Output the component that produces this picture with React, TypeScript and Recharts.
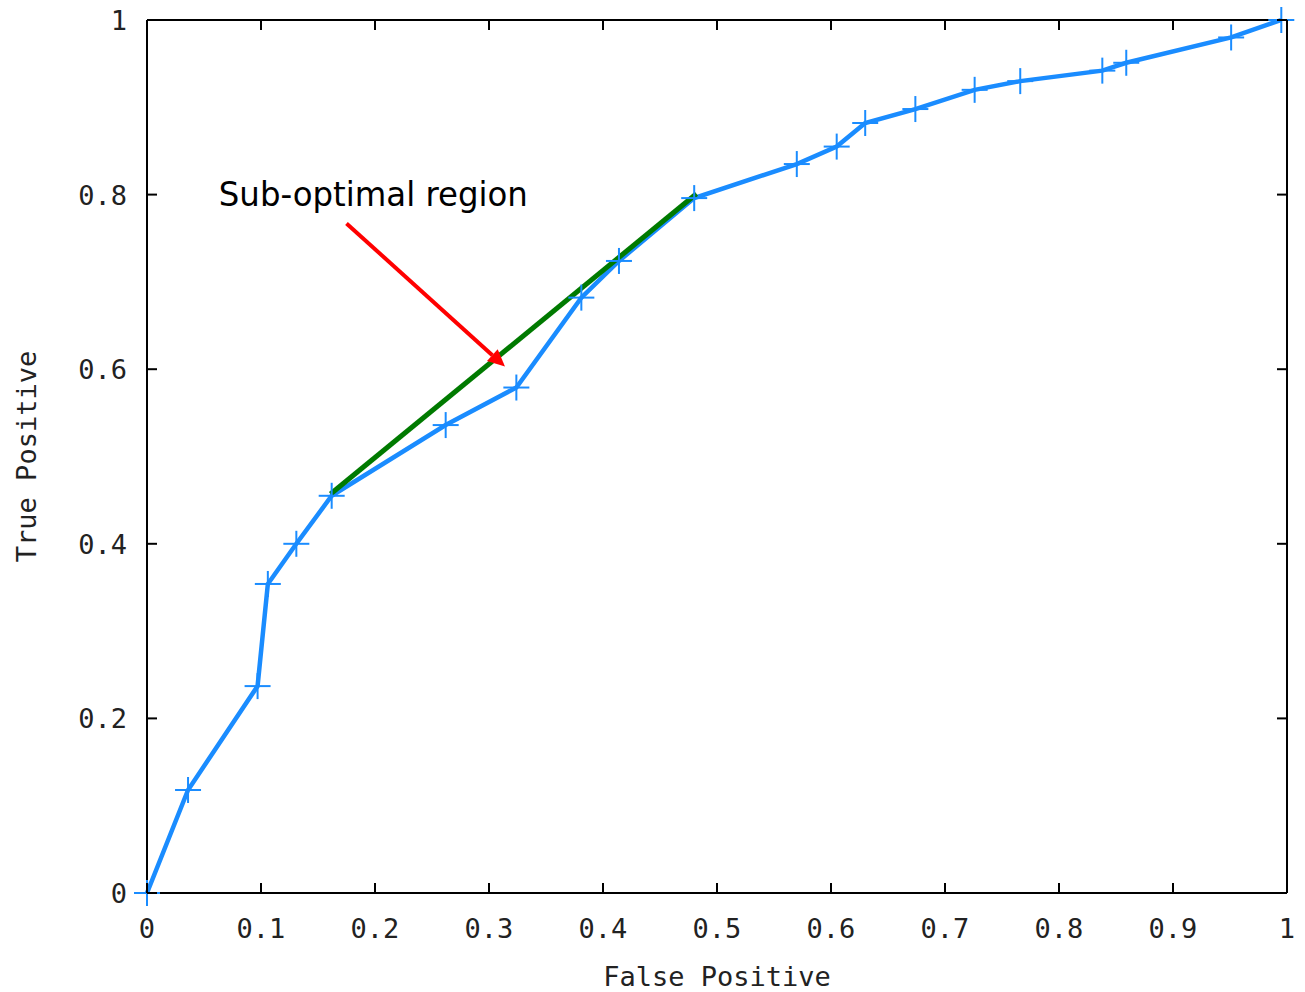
import {
  LineChart,
  Line,
  XAxis,
  YAxis,
  ReferenceLine,
  ReferenceDot,
} from "recharts";

// ROC curve points (false positive rate / true positive rate)
const fpr = [
  0, 0.036, 0.097, 0.106, 0.131, 0.162, 0.262, 0.324, 0.381, 0.414, 0.48,
  0.57, 0.605, 0.63, 0.674, 0.726, 0.766, 0.838, 0.859, 0.951, 0.995,
];
const tpr = [
  0, 0.118, 0.237, 0.354, 0.4, 0.455, 0.536, 0.579, 0.682, 0.724, 0.796,
  0.835, 0.855, 0.882, 0.898, 0.92, 0.93, 0.942, 0.951, 0.98, 1.0,
];

const xTicks = [0, 0.1, 0.2, 0.3, 0.4, 0.5, 0.6, 0.7, 0.8, 0.9, 1];
const yTicks = [0, 0.2, 0.4, 0.6, 0.8, 1];

// convex-hull shortcut and the pointer to the dip under it
const hullFrom = { x: 0.161, y: 0.457 };
const hullTo = { x: 0.482, y: 0.801 };
const arrowFrom = { x: 0.175, y: 0.767 };
const arrowTo = { x: 0.314, y: 0.603 };
const noteAt = { x: 0.063, y: 0.787 };
const noteText = "Sub-optimal region";

const data = fpr.map((x, i) => ({ x, y: tpr[i] }));

const BLUE = "#1a8cff";
const MONO = "'DejaVu Sans Mono', monospace";
const TICK_LEN = 10;

const fmt = (v: number) => (v === 0 || v === 1 ? String(v) : v.toFixed(1));

function BottomTick(props: any) {
  const { x, y, payload } = props;
  return (
    <g>
      <line x1={x} y1={y} x2={x} y2={y - TICK_LEN} stroke="#000" strokeWidth={2} />
      <text x={x} y={y + 45} textAnchor="middle" fontFamily={MONO} fontSize={27} fill="#222">
        {fmt(payload.value)}
      </text>
    </g>
  );
}

function LeftTick(props: any) {
  const { x, y, payload } = props;
  return (
    <g>
      <line x1={x} y1={y} x2={x + TICK_LEN} y2={y} stroke="#000" strokeWidth={2} />
      <text x={x - 20} y={y + 10} textAnchor="end" fontFamily={MONO} fontSize={27} fill="#222">
        {fmt(payload.value)}
      </text>
    </g>
  );
}

// mirrored ticks on the top and right border, no labels
function TopTick(props: any) {
  const { x, y } = props;
  return <line x1={x} y1={y} x2={x} y2={y + TICK_LEN} stroke="#000" strokeWidth={2} />;
}

function RightTick(props: any) {
  const { x, y } = props;
  return <line x1={x} y1={y} x2={x - TICK_LEN} y2={y} stroke="#000" strokeWidth={2} />;
}

function PlusDot(props: any) {
  const { cx, cy } = props;
  const h = 13;
  return (
    <g>
      <line x1={cx - h} y1={cy} x2={cx + h} y2={cy} stroke={BLUE} strokeWidth={2} />
      <line x1={cx} y1={cy - h} x2={cx} y2={cy + h} stroke={BLUE} strokeWidth={2} />
    </g>
  );
}

function Arrow(props: any) {
  const { x1, y1, x2, y2 } = props;
  const dx = x2 - x1;
  const dy = y2 - y1;
  const len = Math.hypot(dx, dy);
  const ux = dx / len;
  const uy = dy / len;
  const head = 17;
  const half = 8;
  const bx = x2 - ux * head;
  const by = y2 - uy * head;
  return (
    <g>
      <line x1={x1} y1={y1} x2={bx} y2={by} stroke="#ff0000" strokeWidth={4} />
      <polygon
        points={`${x2},${y2} ${bx - uy * half},${by + ux * half} ${bx + uy * half},${by - ux * half}`}
        fill="#ff0000"
      />
    </g>
  );
}

function Note(props: any) {
  const { cx, cy } = props;
  return (
    <text
      x={cx}
      y={cy}
      fontFamily="'DejaVu Sans', Tahoma, sans-serif"
      fontSize={33}
      textLength={309}
      lengthAdjust="spacingAndGlyphs"
      fill="#000"
    >
      {noteText}
    </text>
  );
}

const xTitle = (p: any) => {
  const vb = p.viewBox;
  return (
    <text x={vb.x + vb.width / 2} y={vb.y + 93} textAnchor="middle" fontFamily={MONO} fontSize={27} fill="#222">
      False Positive
    </text>
  );
};

const yTitle = (p: any) => {
  const vb = p.viewBox;
  const x = vb.x + 36;
  const y = vb.y + vb.height / 2;
  return (
    <text x={x} y={y} transform={`rotate(-90, ${x}, ${y})`} textAnchor="middle" fontFamily={MONO} fontSize={27} fill="#222">
      True Positive
    </text>
  );
};

const axisLine = { stroke: "#000", strokeWidth: 2 };

export default function App() {
  return (
    <div style={{ position: "absolute", left: 0, top: 0, background: "#fff" }}>
      <LineChart width={1305} height={992} data={data} margin={{ top: 19, right: 17, bottom: 0, left: 0 }}>
        <XAxis
          dataKey="x"
          type="number"
          domain={[0, 1]}
          ticks={xTicks}
          interval={0}
          height={99}
          tickSize={0}
          tickMargin={0}
          tickLine={false}
          axisLine={axisLine}
          tick={<BottomTick />}
          label={{ content: xTitle }}
        />
        <XAxis
          xAxisId="top"
          dataKey="x"
          orientation="top"
          type="number"
          domain={[0, 1]}
          ticks={xTicks}
          interval={0}
          height={1}
          tickSize={0}
          tickMargin={0}
          tickLine={false}
          axisLine={axisLine}
          tick={<TopTick />}
        />
        <YAxis
          type="number"
          domain={[0, 1]}
          ticks={yTicks}
          interval={0}
          width={147}
          tickSize={0}
          tickMargin={0}
          tickLine={false}
          axisLine={axisLine}
          tick={<LeftTick />}
          label={{ content: yTitle }}
        />
        <YAxis
          yAxisId="right"
          orientation="right"
          type="number"
          domain={[0, 1]}
          ticks={yTicks}
          interval={0}
          width={1}
          tickSize={0}
          tickMargin={0}
          tickLine={false}
          axisLine={axisLine}
          tick={<RightTick />}
        />
        {/* invisible copy bound to the mirror axes so they get drawn */}
        <Line
          xAxisId="top"
          yAxisId="right"
          dataKey="y"
          stroke="none"
          dot={false}
          activeDot={false}
          legendType="none"
          isAnimationActive={false}
        />
        <Line
          dataKey="y"
          type="linear"
          stroke={BLUE}
          strokeWidth={4.5}
          dot={(p: any) => <PlusDot key={`pt-${p.index}`} {...p} />}
          isAnimationActive={false}
        />
        <ReferenceLine
          segment={[hullFrom, hullTo]}
          stroke="#007a00"
          strokeWidth={5}
          ifOverflow="visible"
        />
        <ReferenceLine segment={[arrowFrom, arrowTo]} shape={(p: any) => <Arrow {...p} />} ifOverflow="visible" />
        <ReferenceDot x={noteAt.x} y={noteAt.y} r={0} shape={(p: any) => <Note {...p} />} ifOverflow="visible" />
      </LineChart>
    </div>
  );
}
